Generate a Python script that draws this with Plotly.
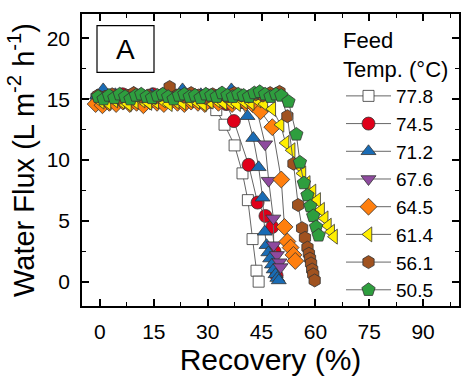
import plotly.graph_objects as go

temps = ["77.8", "74.5", "71.2", "67.6", "64.5", "61.4", "56.1", "50.5"]
colors = ["#ffffff", "#e0001a", "#1a6cb5", "#8e4a9e", "#ff7f0e", "#ffee00", "#a0521f", "#2e9e3e"]
symbols = ["square", "circle", "triangle-up", "triangle-down", "diamond", "triangle-left", "hexagon", "pentagon"]

x_778 = [-1, 0.6, 2.2, 3.8, 5.4, 7, 8.6, 10.2, 11.8, 13.4, 15, 16.6, 18.2, 19.8, 21.4, 23, 24.6, 26.2,
         27.8, 29.4, 31, 32.4, 34.7, 37.5, 39.7, 41.2, 42.5, 43.6, 44.2]
y_778 = [15.0, 14.8, 15.1, 14.9, 15.0, 14.8, 15.1, 14.9, 15.0, 14.9, 15.1, 14.8, 15.0, 14.9, 15.1, 15.0,
         14.8, 15.0, 14.9, 14.9, 14.7, 14.1, 12.9, 11.2, 8.9, 6.7, 3.5, 0.9, 0.0]

x_745 = [-0.5, 1.2, 2.9, 4.6, 6.3, 8, 9.7, 11.4, 13.1, 14.8, 16.5, 18.2, 19.9, 21.6, 23.3, 25, 26.7,
         28.4, 30.1, 31.8, 33.5, 35.2, 37.3, 41.4, 43.9, 46.1, 48.0, 48.6, 49.2]
y_745 = [15.2, 15.3, 15.1, 15.2, 15.4, 15.2, 15.1, 15.3, 15.2, 15.4, 15.2, 15.1, 15.3, 15.2, 15.4, 15.3,
         15.2, 15.1, 15.3, 15.2, 15.1, 14.6, 13.2, 9.6, 6.5, 5.4, 4.5, 2.5, 0.5]

x_712 = [-0.8, 0.9, 2.6, 4.3, 6, 7.7, 9.4, 11.1, 12.8, 14.5, 16.2, 17.9, 19.6, 21.3, 23, 24.7, 26.4,
         28.1, 29.8, 31.5, 33.2, 34.9, 36.6, 37.9, 39.2, 41.1, 42.7, 44.2, 45.3, 45.9, 46.4, 46.9, 47.4,
         47.9, 48.4, 48.9, 49.4, 49.8]
y_712 = [15.3, 15.8, 15.2, 15.4, 15.3, 15.2, 15.5, 15.3, 15.2, 15.4, 15.3, 15.2, 15.4, 15.3, 15.8, 15.3,
         15.2, 15.4, 15.3, 15.2, 15.4, 15.3, 15.8, 15.2, 14.5, 13.6, 11.8, 9.4, 6.9, 4.1, 3.0, 2.4, 1.9,
         1.4, 1.0, 0.6, 0.3, 0.1]

x_676 = [-0.3, 1.6, 3.5, 5.4, 7.3, 9.2, 11.1, 13, 14.9, 16.8, 18.7, 20.6, 22.5, 24.4, 26.3, 28.2, 30.1,
         32, 33.9, 35.8, 37.7, 39.6, 41.5, 43.3, 46.0, 47.0, 48.3, 48.4, 49.3, 50.0, 50.3]
y_676 = [15.2, 15.3, 15.4, 15.2, 15.3, 15.5, 15.2, 15.3, 15.4, 15.2, 15.3, 15.5, 15.3, 15.2, 15.4, 15.3,
         15.5, 15.2, 15.3, 15.4, 15.2, 15.3, 15.2, 14.6, 11.3, 8.3, 5.2, 3.0, 2.2, 1.6, 1.2]

x_645 = [-1.2, 0.7, 2.6, 4.5, 6.4, 8.3, 10.2, 12.1, 14, 15.9, 17.8, 19.7, 21.6, 23.5, 25.4, 27.3, 29.2,
         31.1, 33, 34.9, 36.8, 38.7, 40.6, 42.5, 44.7, 48.0, 50.5, 51.4, 52.2, 53.1, 53.9, 54.4]
y_645 = [14.6, 14.5, 14.7, 14.6, 14.8, 14.6, 14.7, 14.5, 14.8, 14.7, 14.6, 14.8, 14.7, 14.6, 14.8, 14.7,
         14.6, 14.9, 14.7, 14.8, 14.6, 14.8, 14.7, 14.6, 14.0, 12.7, 8.4, 4.5, 3.3, 2.8, 2.2, 1.7]

x_614 = [0.2, 2.1, 4, 5.9, 7.8, 9.7, 11.6, 13.5, 15.4, 17.3, 19.2, 21.1, 23, 24.9, 26.8, 28.7, 30.6,
         32.5, 34.4, 36.3, 38.2, 40.1, 42, 43.9, 45.8, 48.0, 50.3, 51.7, 53.4, 55.0, 56.4, 57.6, 59.2,
         60.5, 61.6, 62.6, 63.5, 64.4, 65.2]
y_614 = [14.8, 14.7, 14.9, 14.8, 14.6, 14.8, 14.9, 14.7, 14.8, 14.9, 14.6, 14.8, 14.7, 14.9, 14.8, 14.6,
         14.8, 14.9, 14.7, 14.8, 14.6, 14.8, 14.7, 14.9, 14.6, 14.2, 12.9, 11.4, 10.8, 9.6, 8.9, 8.1, 7.4,
         6.7, 5.9, 5.2, 4.6, 4.1, 3.7]

x_561 = [-0.6, 1.4, 3.4, 5.4, 7.4, 9.4, 11.4, 13.4, 15.4, 17.4, 19.4, 21.4, 23.4, 25.4, 27.4, 29.4,
         31.4, 33.4, 35.4, 37.4, 39.4, 41.4, 43.4, 45.4, 47.4, 50.0, 52.2, 53.9, 55.2, 56.3, 57.1, 57.8,
         58.2, 58.5, 58.8, 59.1, 59.4, 59.8]
y_561 = [15.3, 15.2, 15.4, 15.1, 15.3, 15.5, 15.2, 15.3, 15.1, 15.4, 16.0, 15.3, 15.2, 15.5, 15.3, 15.1,
         15.4, 15.3, 15.2, 15.5, 15.3, 15.2, 15.4, 15.3, 15.5, 15.6, 13.6, 9.7, 6.3, 4.4, 3.6, 2.8,
         2.3, 1.9, 1.5, 1.0, 0.6, 0.1]

x_505 = [-0.5, 1.0, 2.5, 4.0, 5.5, 7.0, 8.5, 10.0, 11.5, 13.0, 14.5, 16.0, 17.5, 19.0, 20.5, 22.0,
         23.5, 25.0, 26.5, 28.0, 29.5, 31.0, 32.5, 34.0, 35.5, 37.0, 38.5, 40.0, 41.5, 43.0, 44.5,
         46.0, 47.5, 49.0, 50.5, 52.5, 54.7, 55.7, 56.8, 57.8, 58.6, 59.4, 60.2, 60.9]
y_505 = [15.2, 15.0, 15.3, 15.1, 15.4, 15.2, 15.0, 15.3, 15.4, 15.2, 15.1, 15.3, 15.4, 15.2, 15.0, 15.3,
         15.4, 15.2, 15.3, 15.1, 15.4, 15.3, 15.2, 15.5, 15.3, 15.2, 15.4, 15.3, 15.2, 15.5, 15.6,
         15.4, 15.2, 15.4, 15.3, 14.8, 12.1, 9.8, 8.1, 7.1, 6.2, 5.4, 4.5, 3.8]

xs = [x_778, x_745, x_712, x_676, x_645, x_614, x_561, x_505]
ys = [y_778, y_745, y_712, y_676, y_645, y_614, y_561, y_505]
sizes = [11, 13, 13, 13, 13, 13, 13, 14]

fig = go.Figure()
for t, c, s, sz, x, y in zip(temps, colors, symbols, sizes, xs, ys):
    fig.add_trace(go.Scatter(
        x=x, y=y, name=t, mode="lines+markers",
        line=dict(color="#666666", width=1),
        marker=dict(symbol=s, size=sz, color=c, line=dict(color="#333333", width=0.8)),
    ))

font = "Arial, Liberation Sans, sans-serif"
axis_common = dict(
    showline=True, linecolor="black", linewidth=1.5, mirror="allticks",
    ticks="inside", ticklen=7, tickwidth=1.5, tickcolor="black",
    showgrid=False, zeroline=False,
    tickfont=dict(family=font, size=21, color="black"),
)
fig.update_xaxes(
    range=[-5, 100], tick0=0, dtick=15,
    minor=dict(dtick=7.5, ticks="inside", ticklen=4, tickwidth=1.2, tickcolor="black"),
    title=dict(text="Recovery (%)", font=dict(family=font, size=30, color="black"), standoff=4),
    ticklabelstandoff=6,
    **axis_common,
)
fig.update_yaxes(
    range=[-2, 22], tick0=0, dtick=5,
    minor=dict(dtick=2.5, ticks="inside", ticklen=4, tickwidth=1.2, tickcolor="black"),
    title=dict(text="Water Flux (L m<sup>-2</sup> h<sup>-1</sup>)", font=dict(family=font, size=29, color="black"), standoff=4),
    ticklabelstandoff=6,
    **axis_common,
)

fig.add_shape(type="rect", xref="paper", yref="paper",
              x0=(97 - 82) / 377, x1=(154 - 82) / 377, y0=(313 - 73) / 300, y1=(313 - 25) / 300,
              line=dict(color="black", width=1.2), fillcolor="white")
fig.add_annotation(text="A", xref="paper", yref="paper",
                   x=(125.5 - 82) / 377, y=(313 - 49) / 300, xanchor="center", yanchor="middle",
                   showarrow=False, font=dict(family=font, size=28, color="black"))

fig.update_layout(
    width=473, height=380,
    margin=dict(l=82, r=14, t=13, b=67),
    plot_bgcolor="white", paper_bgcolor="white",
    showlegend=True,
    legend=dict(
        title=dict(text="Feed<br>Temp. (°C)", font=dict(family=font, size=22, color="black")),
        font=dict(family=font, size=19, color="black"),
        x=(341 - 82) / 377, y=(313 - 19) / 300, xanchor="left", yanchor="top",
        bgcolor="rgba(0,0,0,0)", borderwidth=0, maxheight=380, itemwidth=45,
    ),
)

fig.write_html("out.html")
